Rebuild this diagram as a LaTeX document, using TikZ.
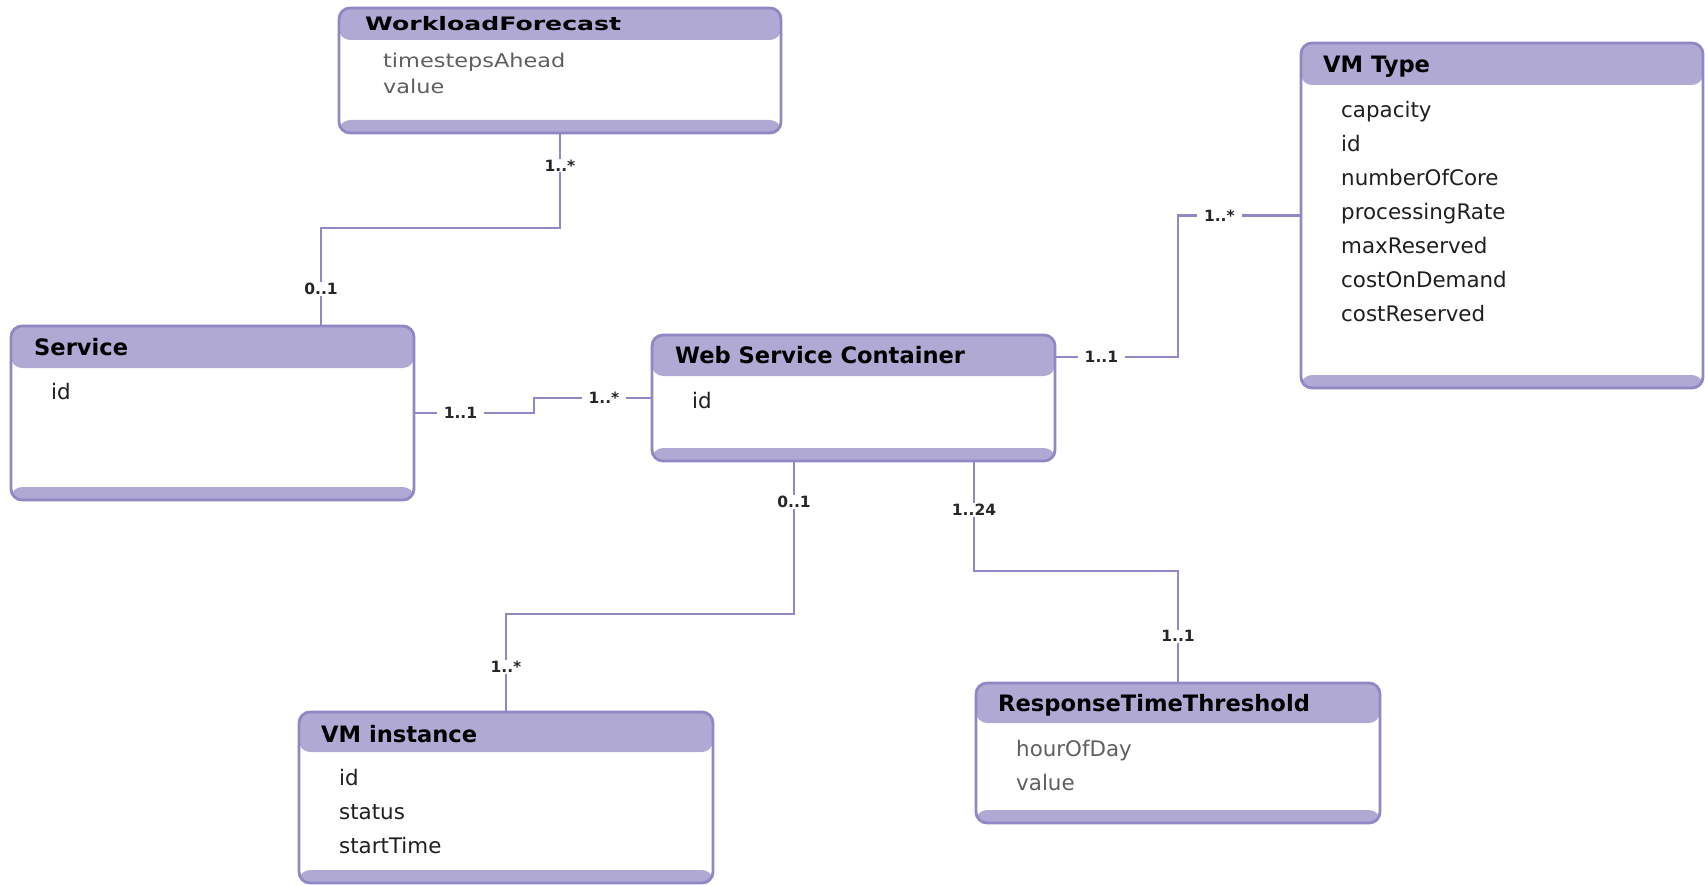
\documentclass[tikz,border=0pt]{standalone}
\usepackage{fontspec}
\setmainfont{DejaVu Sans}
\usetikzlibrary{calc}

\definecolor{umlhead}{RGB}{175,169,212}
\definecolor{umlline}{RGB}{143,136,196}
\definecolor{attrgray}{RGB}{95,95,95}

\tikzset{
    entity/.style={draw=umlline, line width=2.8pt, rounded corners=11pt, fill=white, inner sep=0pt,
        path picture={
            \fill [umlhead] (path picture bounding box.north west) rectangle ([yshift=-#1]path picture bounding box.north east);
            \fill [umlhead] (path picture bounding box.south west) rectangle ([yshift=13pt]path picture bounding box.south east);
        }},
    entity/.default=41pt,
    enttitle/.style={anchor=west, inner sep=0pt, text height=16pt, text depth=0pt, font=\bfseries\fontsize{22.6}{26}\selectfont},
    entattr/.style={anchor=west, inner sep=0pt, text height=17pt, text depth=0pt, font=\fontsize{21.4}{25}\selectfont, text=black!88},
    link/.style={draw=umlline, line width=2.8pt},
    mult/.style={fill=white, inner xsep=7pt, inner ysep=1pt, font=\bfseries\fontsize{15.5}{18}\selectfont, text=black!85}
}

\begin{document}
\begin{tikzpicture}[x=1pt, y=-1pt]
    \useasboundingbox ( 0, 0 ) rectangle ( 1705, 885 );

    % сущности
    \node [entity=32pt, minimum width=442, minimum height=125] (wf) at ( 560, 70.5 ) {};
    \node [entity=42pt, minimum width=402, minimum height=345] (vmt) at ( 1502, 215.5 ) {};
    \node [entity=42pt, minimum width=403, minimum height=174] (svc) at ( 212.5, 413 ) {};
    \node [entity, minimum width=403, minimum height=126] (wsc) at ( 853.5, 398 ) {};
    \node [entity=40pt, minimum width=414, minimum height=171] (vmi) at ( 506, 797.5 ) {};
    \node [entity=40pt, minimum width=404, minimum height=140] (rtt) at ( 1178, 753 ) {};

    % заголовки
    \node [enttitle, text height=13.5pt, font=\bfseries\fontsize{18.5}{22}\selectfont] (wf-t) at ( 365, 23.5 ) {\scalebox{1.36}[1]{WorkloadForecast}};
    \node [enttitle] (vmt-t) at ( 1323, 65 ) {VM Type};
    \node [enttitle] (svc-t) at ( 34, 347.5 ) {Service};
    \node [enttitle] (wsc-t) at ( 675, 355 ) {Web Service Container};
    \node [enttitle] (vmi-t) at ( 321, 734 ) {VM instance};
    \node [enttitle] (rtt-t) at ( 998, 703 ) {ResponseTimeThreshold};

    % атрибуты
    \foreach \a [count=\i from 0] in {timestepsAhead, value}
        \node [entattr, text height=15pt, font=\fontsize{19}{23}\selectfont, text=attrgray] (wf-a\i) at ( 383, 60 + 26*\i ) {\scalebox{1.18}[1]{\a}};
    \foreach \a [count=\i from 0] in {capacity, id, numberOfCore, processingRate, maxReserved, costOnDemand, costReserved}
        \node [entattr] (vmt-a\i) at ( 1341, 109 + 34*\i ) {\a};
    \node [entattr] (svc-a0) at ( 51, 391 ) {id};
    \node [entattr] (wsc-a0) at ( 692, 400 ) {id};
    \foreach \a [count=\i from 0] in {id, status, startTime}
        \node [entattr] (vmi-a\i) at ( 339, 777 + 34*\i ) {\a};
    \foreach \a [count=\i from 0] in {hourOfDay, value}
        \node [entattr, text=attrgray] (rtt-a\i) at ( 1016, 748 + 34*\i ) {\a};

    % связи
    \coordinate (b1) at ( 321, 228 );
    \coordinate (b2) at ( 534, 0 );
    \coordinate (b3) at ( 1178, 357 );
    \coordinate (b4) at ( 794, 614 );
    \coordinate (b5) at ( 974, 571 );

    \draw [link] (wf.south) -- node [mult, pos=0.33] {1..*} (wf.south |- b1) -- (b1) -- node [mult, pos=0.63] {0..1} (b1 |- svc.north);
    \draw [link] (svc.east) -- node [mult, pos=0.38] {1..1} (svc.east -| b2) -- (wsc.west -| b2) -- node [mult, pos=0.6] {1..*} (wsc.west);
    \draw [link] (wsc.east |- b3) -- node [mult, pos=0.37] {1..1} (b3) -- (b3 |- vmt.west) -- node [mult, pos=0.34] {1..*} (vmt.west);
    \draw [link] (wsc.south -| b4) -- node [mult, pos=0.26] {0..1} (b4) -- (b4 -| vmi.north) -- node [mult, pos=0.55] {1..*} (vmi.north);
    \draw [link] (wsc.south -| b5) -- node [mult, pos=0.44] {1..24} (b5) -- (b5 -| rtt.north) -- node [mult, pos=0.59] {1..1} (rtt.north);
\end{tikzpicture}
\end{document}
